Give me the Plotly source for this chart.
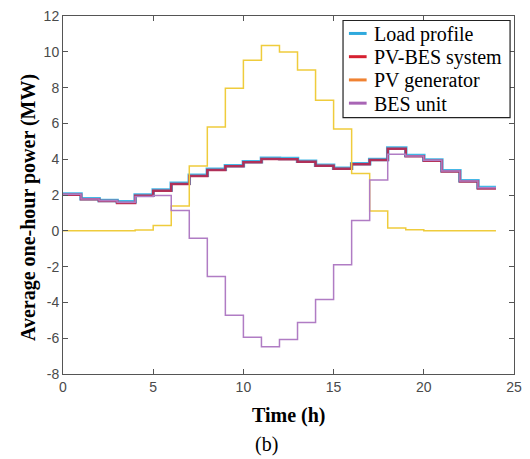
import plotly.graph_objects as go

# Hourly averages (MW) for hours 0..23
hours = list(range(25))  # step edges 0..24
load_profile = [2.06, 1.79, 1.69, 1.62, 2.00, 2.28, 2.66, 3.10, 3.44, 3.64, 3.86, 4.05,
                4.04, 3.89, 3.66, 3.49, 3.75, 3.99, 4.63, 4.21, 3.95, 3.36, 2.80, 2.42]
pv_bes_system = [2.02, 1.76, 1.66, 1.56, 1.96, 2.24, 2.62, 3.06, 3.40, 3.60, 3.83, 4.01,
                 4.00, 3.86, 3.63, 3.46, 3.72, 3.96, 4.58, 4.17, 3.91, 3.31, 2.75, 2.37]
pv_generator = [0.0, 0.0, 0.0, 0.0, 0.05, 0.30, 1.38, 3.62, 5.80, 7.97, 9.53, 10.35,
                9.99, 8.99, 7.30, 5.69, 3.20, 1.10, 0.15, 0.06, 0.0, 0.0, 0.0, 0.0]
bes_unit = [2.04, 1.78, 1.68, 1.60, 1.92, 1.97, 1.13, -0.41, -2.55, -4.72, -5.94, -6.48,
            -6.07, -5.12, -3.84, -1.89, 0.57, 2.84, 4.27, 4.18, 3.94, 3.34, 2.78, 2.40]

y_ticks = [-8, -6, -4, -2, 0, 2, 4, 6, 8, 10, 12]
y_tick_labels = ["-8", "-6", "-4", "-2", "0", "2", "4", "6", "8", "10", "12"]
x_ticks = [0, 5, 10, 15, 20, 25]

# name, values, plotted colour, width, key colour
series = [
    ("Load profile", load_profile, "#45B7E6", 3.5, "#2FA9DD"),
    ("PV-BES system", pv_bes_system, "rgba(190,30,70,0.88)", 2.5, "#D62030"),
    ("PV generator", pv_generator, "#EFCC3C", 1.5, "#F08232"),
    ("BES unit", bes_unit, "#B07CC4", 1.5, "#A865B5"),
]

SERIF = "Liberation Serif, Times New Roman, serif"

fig = go.Figure()
for name, vals, color, width, _ in series:
    fig.add_trace(go.Scatter(
        x=hours, y=vals + [vals[-1]], name=name, mode="lines",
        line=dict(color=color, width=width, shape="hv"),
        showlegend=False,
    ))

axis_common = dict(
    showline=True, linecolor="#555555", linewidth=1, mirror="ticks",
    ticks="inside", ticklen=5, tickcolor="#555555",
    showgrid=False, zeroline=False,
    tickfont=dict(family="Liberation Sans, Arial, sans-serif", size=14, color="#4a4a4a"),
)

# Key box in the upper right corner, in pixel-based paper coordinates
W, H = 530, 459
L, R, T, B = 63, 8, 15, 85
pw, ph = W - L - R, H - T - B


def px(x):
    return (x - L) / pw


def py(y):
    return 1 - (y - T) / ph


shapes = [dict(type="rect", xref="paper", yref="paper",
               x0=px(348), x1=px(518), y0=py(117), y1=py(19.5),
               line=dict(color="#222222", width=1.2), fillcolor="white", layer="above")]
annotations = []
for i, (name, _, _, _, key_color) in enumerate(series):
    yc = 32.5 + i * 23.3
    shapes.append(dict(type="line", xref="paper", yref="paper",
                       x0=px(354), x1=px(372), y0=py(yc), y1=py(yc),
                       line=dict(color=key_color, width=3), layer="above"))
    annotations.append(dict(text=name, xref="paper", yref="paper",
                            x=px(377), y=py(yc + 1), xanchor="left", yanchor="middle",
                            showarrow=False,
                            font=dict(family=SERIF, size=20, color="black")))

annotations += [
    dict(text="<b>Time (h)</b>", xref="paper", yref="paper", x=0.5, y=py(416),
         xanchor="center", yanchor="middle", showarrow=False,
         font=dict(family=SERIF, size=20, color="black")),
    dict(text="(b)", xref="paper", yref="paper", x=px(270), y=py(445),
         xanchor="center", yanchor="middle", showarrow=False,
         font=dict(family=SERIF, size=20, color="black")),
    dict(text="<b>Average one-hour power (MW)</b>", xref="paper", yref="paper",
         x=px(28), y=py(207), textangle=-90,
         xanchor="center", yanchor="middle", showarrow=False,
         font=dict(family=SERIF, size=20, color="black")),
]

fig.update_layout(
    width=W, height=H,
    margin=dict(l=L, r=R, t=T, b=B),
    paper_bgcolor="white", plot_bgcolor="white",
    showlegend=False,
    xaxis=dict(range=[0, 25], tickvals=x_ticks, **axis_common),
    yaxis=dict(range=[-8, 12], tickvals=y_ticks, ticktext=y_tick_labels, **axis_common),
    shapes=shapes,
    annotations=annotations,
)

fig.write_html("out.html")
